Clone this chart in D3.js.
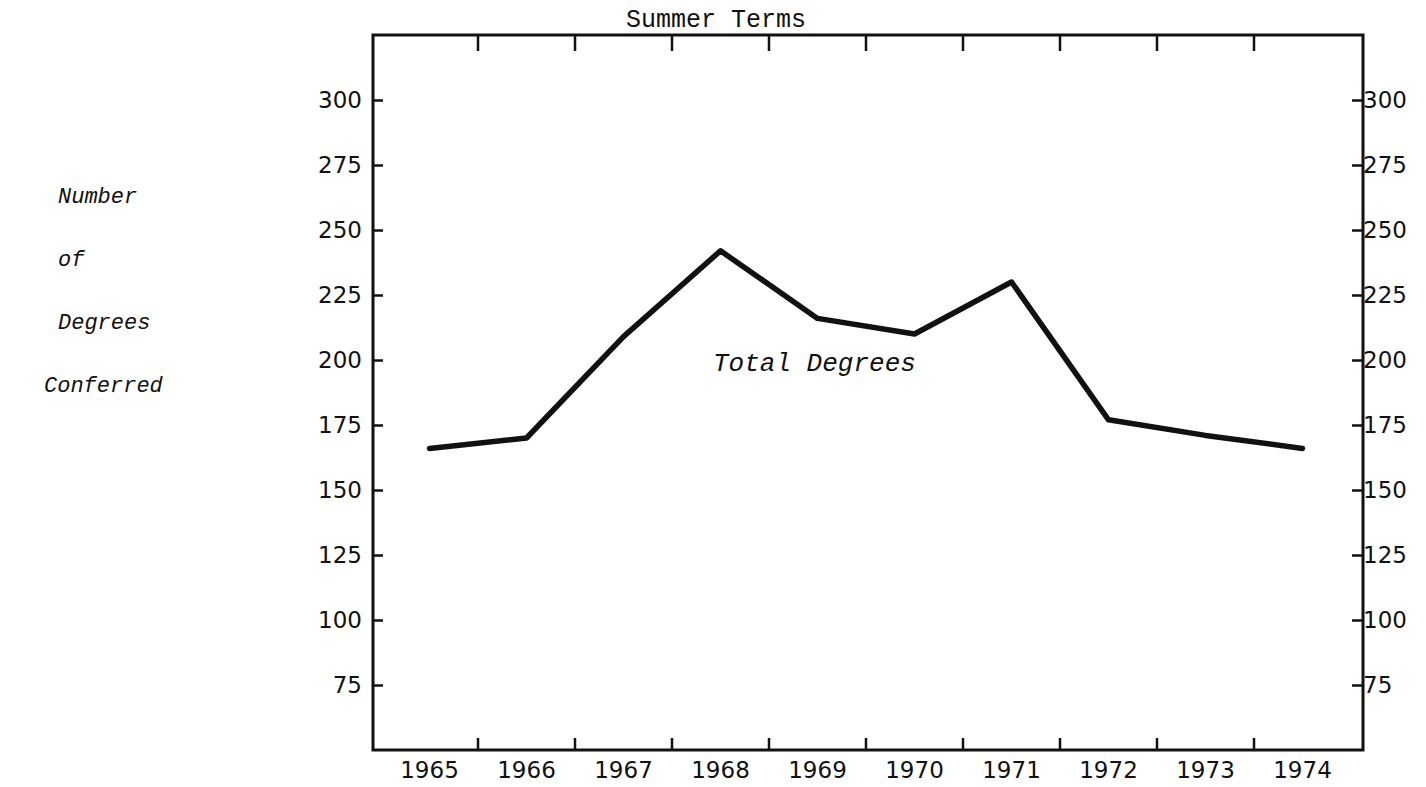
<!DOCTYPE html>
<html>
<head>
<meta charset="utf-8">
<script src="https://cdn.jsdelivr.net/npm/d3@7"></script>
<style>
  body { margin: 0; background: #fff; }
  svg { display: block; }
  .tick text { font-family: "DejaVu Sans", sans-serif; font-size: 23px; fill: #111; }
  .tick line { stroke: #111; stroke-width: 2.5; }
</style>
</head>
<body>
<div id="chart"></div>
<script>
const width = 1426;
const height = 787;

// Summer term degrees
const years = [1965, 1966, 1967, 1968, 1969, 1970, 1971, 1972, 1973, 1974];
const totalDegrees = [166, 170, 209, 242, 216, 210, 230, 177, 171, 166];
const yTicks = [75, 100, 125, 150, 175, 200, 225, 250, 275, 300];
const sideTitle = ["Number", "of", "Degrees", "Conferred"];

// plot frame
const frameL = 373, frameR = 1363, frameT = 35, frameB = 750;

const svg = d3.select("#chart").append("svg")
  .attr("width", width)
  .attr("height", height);

const x = d3.scaleBand()
  .domain(years)
  .range([381, 1351]);

const y = d3.scaleLinear()
  .domain([50, 325])
  .range([frameB, frameT]);

// left and right value axes, ticks pointing inward
svg.append("g")
  .attr("transform", `translate(${frameL},0)`)
  .call(d3.axisLeft(y).tickValues(yTicks).tickSize(-10).tickPadding(11))
  .call(g => g.select(".domain").remove());

svg.append("g")
  .attr("transform", `translate(${frameR},0)`)
  .call(d3.axisRight(y).tickValues(yTicks).tickSize(-11).tickPadding(0))
  .call(g => g.select(".domain").remove());

// year labels centred in each band
svg.append("g")
  .attr("transform", `translate(0,${frameB})`)
  .call(d3.axisBottom(x).tickSize(0).tickPadding(12))
  .call(g => g.select(".domain").remove());

// tick marks sit on the band boundaries
const bounds = years.slice(1).map(d => x(d));

svg.append("g").selectAll("line")
  .data(bounds)
  .enter().append("line")
  .attr("x1", d => d).attr("x2", d => d)
  .attr("y1", frameB).attr("y2", frameB - 12)
  .attr("stroke", "#111").attr("stroke-width", 2.5);

svg.append("g").selectAll("line")
  .data(bounds)
  .enter().append("line")
  .attr("x1", d => d).attr("x2", d => d)
  .attr("y1", frameT).attr("y2", frameT + 16)
  .attr("stroke", "#111").attr("stroke-width", 2.5);

// frame
svg.append("rect")
  .attr("x", frameL).attr("y", frameT)
  .attr("width", frameR - frameL).attr("height", frameB - frameT)
  .attr("fill", "none")
  .attr("stroke", "#111")
  .attr("stroke-width", 3);

// the data line
const line = d3.line()
  .x((d, i) => x(years[i]) + x.bandwidth() / 2)
  .y(d => y(d));

svg.append("path")
  .datum(totalDegrees)
  .attr("d", line)
  .attr("fill", "none")
  .attr("stroke", "#111")
  .attr("stroke-width", 5.5)
  .attr("stroke-linejoin", "round")
  .attr("stroke-linecap", "round");

// titles
svg.append("text")
  .attr("x", 716).attr("y", 27)
  .attr("text-anchor", "middle")
  .style("font-family", "'Liberation Mono', monospace")
  .style("font-size", "25px")
  .attr("fill", "#111")
  .text("Summer Terms");

svg.append("text")
  .attr("x", 713).attr("y", 371)
  .style("font-family", "'Liberation Mono', monospace")
  .style("font-style", "italic")
  .style("font-size", "26px")
  .attr("fill", "#111")
  .text("Total Degrees");

const sideX = [58, 58, 58, 44];
svg.append("g").selectAll("text")
  .data(sideTitle)
  .enter().append("text")
  .attr("x", (d, i) => sideX[i])
  .attr("y", (d, i) => 203 + i * 63)
  .style("font-family", "'Liberation Mono', monospace")
  .style("font-style", "italic")
  .style("font-size", "22px")
  .attr("fill", "#111")
  .text(d => d);
</script>
</body>
</html>
